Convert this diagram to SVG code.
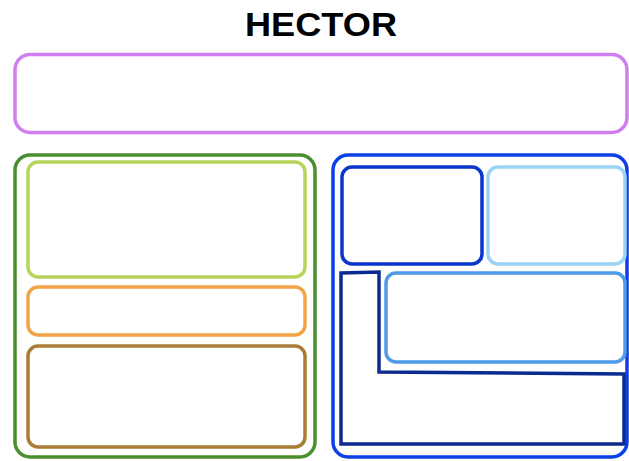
<svg xmlns="http://www.w3.org/2000/svg" width="629" height="461" viewBox="0 0 629 461">
<style>
.b{fill:#fff;stroke-width:3.5;}
.t{font-family:"Liberation Sans",Arial,sans-serif;font-weight:bold;font-size:33px;fill:#000;}
</style>
<rect width="629" height="461" fill="#fff"/>
<text class="t" x="321" y="36" text-anchor="middle" textLength="152" lengthAdjust="spacingAndGlyphs">HECTOR</text>
<g id="top"><rect class="b" x="15" y="54.5" width="612" height="78" rx="15" stroke="#d17ef0"/></g>
<g id="green"><rect class="b" x="15" y="155" width="300" height="302" rx="15" stroke="#4a8f2e"/></g>
<g id="lightgreen"><rect class="b" x="28" y="162" width="277" height="115" rx="10" stroke="#b8d45a"/></g>
<g id="orange"><rect class="b" x="28" y="287" width="277" height="48" rx="10" stroke="#f2a446"/></g>
<g id="brown"><rect class="b" x="28" y="346" width="277" height="101" rx="10" stroke="#a97d35"/></g>
<g id="blue"><rect class="b" x="333" y="155" width="294" height="302" rx="15" stroke="#0b40e6"/></g>
<g id="darkblue"><rect class="b" x="342" y="167" width="140" height="97" rx="10" stroke="#0b36cc"/></g>
<g id="skyblue"><rect class="b" x="488" y="167" width="137" height="97" rx="10" stroke="#9ad4f4"/></g>
<g id="midblue"><rect class="b" x="386" y="273" width="239" height="89" rx="10" stroke="#4e9be9"/></g>
<g id="navy"><polygon class="b" points="341,273 379,272 379,372 624,374 624,444 341,444" stroke="#0c2b8f" stroke-width="3.5"/></g>
<g id="connectors"></g>
</svg>
